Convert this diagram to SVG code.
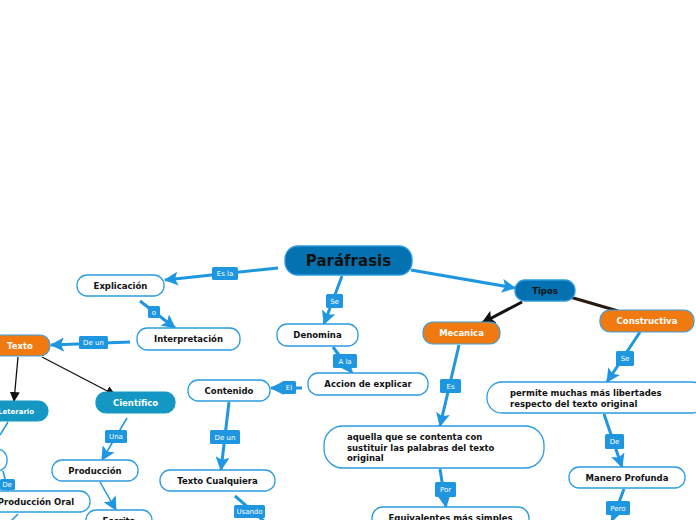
<svg xmlns="http://www.w3.org/2000/svg" width="696" height="520" viewBox="0 0 696 520">
<style>
.w{fill:#fff;stroke:#2a9be0;stroke-width:1.3}
.o{fill:#f07a10;stroke:#3aa0e0;stroke-width:1.2}
.t{fill:#1497c2;stroke:#1497c2;stroke-width:1.2}
.d{fill:#0471b0;stroke:#2a9be0;stroke-width:1.3}
text{font-family:"DejaVu Sans","Verdana",sans-serif;font-weight:bold;font-size:8.5px;fill:#111}
.wt{fill:#fff}
.c{stroke:#1e96e0;stroke-width:3;fill:none}
.k{stroke:#111;stroke-width:1.3;fill:none}
.lb{fill:#1e96e0}
.lt{font-weight:normal;font-size:7px;fill:#fff;text-anchor:middle}
.m{text-anchor:middle}
</style>
<defs>
<marker id="ab" markerUnits="userSpaceOnUse" markerWidth="14" markerHeight="14" viewBox="0 0 14 14" refX="13" refY="7" orient="auto"><path d="M0,0 L14,7 L0,14 L3,7 z" fill="#1e96e0"/></marker>
<marker id="ak" markerUnits="userSpaceOnUse" markerWidth="10" markerHeight="10" viewBox="0 0 10 10" refX="9" refY="5" orient="auto"><path d="M0,0 L10,5 L0,10 z" fill="#111"/></marker>
<marker id="akb" markerUnits="userSpaceOnUse" markerWidth="14" markerHeight="14" viewBox="0 0 14 14" refX="13" refY="7" orient="auto"><path d="M0,0 L14,7 L0,14 L3,7 z" fill="#111"/></marker>
</defs>
<g id="connectors">
<path class="c" d="M278,268 L165,280" marker-end="url(#ab)"/>
<path class="c" d="M140,301 L175,328" marker-end="url(#ab)"/>
<path class="c" d="M130,342 L51,345" marker-end="url(#ab)"/>
<path class="k" d="M18,357 L14,401" marker-end="url(#ak)"/>
<path class="k" d="M42,357 L115,395" marker-end="url(#ak)"/>
<path class="c" d="M342,276 L324,324" marker-end="url(#ab)"/>
<path class="c" d="M333,347 L352,373" marker-end="url(#ab)"/>
<path class="c" d="M302,388 L271,388" marker-end="url(#ab)"/>
<path class="c" d="M229,402 L221,470" marker-end="url(#ab)"/>
<path class="c" d="M235,496 L265,522"/>
<path class="c" d="M411,270 L515,288" marker-end="url(#ab)"/>
<path d="M522,302 L482,323" stroke="#111" stroke-width="3" fill="none" marker-end="url(#akb)"/>
<path d="M570,297 L618,311" stroke="#2b1a12" stroke-width="3" fill="none"/>
<path class="c" d="M459,345 L440,426" marker-end="url(#ab)"/>
<path class="c" d="M640,332 L607,382" marker-end="url(#ab)"/>
<path class="c" d="M604,414 L622,467" marker-end="url(#ab)"/>
<path class="c" d="M624,489 L612,521" marker-end="url(#ab)"/>
<path class="c" d="M440,469 L446,507" marker-end="url(#ab)"/>
<path class="k" d="M127,418 L102,460" stroke="#1e96e0" style="stroke:#1e96e0;stroke-width:1.5" marker-end="url(#ab)"/>
<path d="M100,482 L116,510" stroke="#1e96e0" stroke-width="1.5" fill="none" marker-end="url(#ab)"/>
<path d="M8,422 L0,435" stroke="#1e96e0" stroke-width="1.5" fill="none"/>
<path d="M3,471 L8,491" stroke="#1e96e0" stroke-width="1.5" fill="none"/>
<path d="M18,514 L10,522" stroke="#1e96e0" stroke-width="1.5" fill="none"/>
<rect class="lb" x="212" y="267" width="26" height="13" rx="1.5"/><text class="lt" x="225" y="276">Es la</text>
<rect class="lb" x="148" y="306" width="12" height="12" rx="1.5"/><text class="lt" x="154" y="315">o</text>
<rect class="lb" x="79" y="336" width="29" height="13" rx="1.5"/><text class="lt" x="93.5" y="345">De un</text>
<rect class="lb" x="326" y="294" width="17" height="14" rx="1.5"/><text class="lt" x="334.5" y="304">Se</text>
<rect class="lb" x="333" y="354" width="24" height="14" rx="1.5"/><text class="lt" x="345" y="364">A la</text>
<rect class="lb" x="282" y="381" width="14" height="13" rx="1.5"/><text class="lt" x="289" y="390">El</text>
<rect class="lb" x="210" y="430" width="30" height="14" rx="1.5"/><text class="lt" x="225" y="440">De un</text>
<rect class="lb" x="234" y="505" width="31" height="13" rx="1.5"/><text class="lt" x="249.5" y="514">Usando</text>
<rect class="lb" x="440" y="379" width="21" height="14" rx="1.5"/><text class="lt" x="450.5" y="389">Es</text>
<rect class="lb" x="616" y="351" width="18" height="15" rx="1.5"/><text class="lt" x="625" y="361">Se</text>
<rect class="lb" x="605" y="434" width="19" height="15" rx="1.5"/><text class="lt" x="614.5" y="444">De</text>
<rect class="lb" x="606" y="501" width="24" height="14" rx="1.5"/><text class="lt" x="618" y="511">Pero</text>
<rect class="lb" x="435" y="482" width="21" height="15" rx="1.5"/><text class="lt" x="445.5" y="492">Por</text>
<rect class="lb" x="105" y="430" width="22" height="13" rx="1.5"/><text class="lt" x="116" y="439">Una</text>
<rect class="lb" x="0" y="479" width="15" height="11" rx="1.5"/><text class="lt" x="7" y="487">De</text>
</g>
<g id="n-parafrasis"><rect class="d" x="285" y="246" width="127" height="29" rx="13"/><text class="m" x="348.5" y="266" style="font-size:15px">Paráfrasis</text></g>
<g id="n-explicacion"><rect class="w" x="77" y="275" width="87" height="21" rx="10"/><text class="m" x="120.5" y="289">Explicación</text></g>
<g id="n-interpretacion"><rect class="w" x="137" y="328" width="103" height="22" rx="10"/><text class="m" x="188.5" y="342">Interpretación</text></g>
<g id="n-texto"><rect class="o" x="-8" y="335" width="58" height="21" rx="10"/><text class="m wt" x="20" y="349">Texto</text></g>
<g id="n-leterario"><rect class="t" x="-12" y="401" width="60" height="20" rx="10"/><text class="m wt" x="16" y="414" style="font-size:7px">Leterario</text></g>
<g id="n-cientifico"><rect class="t" x="96" y="392" width="79" height="21" rx="10"/><text class="m wt" x="135.5" y="406">Científico</text></g>
<g id="n-partial"><rect class="w" x="-14" y="449" width="21" height="22" rx="10"/></g>
<g id="n-produccion"><rect class="w" x="52" y="460" width="86" height="21" rx="10"/><text class="m" x="95" y="474">Producción</text></g>
<g id="n-produccion-oral"><rect class="w" x="-12" y="491" width="102" height="21" rx="10"/><text class="m" x="36" y="505">Producción Oral</text></g>
<g id="n-escrita"><rect class="w" x="86" y="510" width="66" height="22" rx="10"/><text class="m" x="119" y="524">Escrita</text></g>
<g id="n-denomina"><rect class="w" x="277" y="324" width="81" height="22" rx="10"/><text class="m" x="317.5" y="338">Denomina</text></g>
<g id="n-accion"><rect class="w" x="308" y="373" width="120" height="22" rx="10"/><text class="m" x="368" y="387">Accion de explicar</text></g>
<g id="n-contenido"><rect class="w" x="188" y="380" width="82" height="21" rx="10"/><text class="m" x="229" y="394">Contenido</text></g>
<g id="n-texto-cualquiera"><rect class="w" x="160" y="470" width="115" height="21" rx="10"/><text class="m" x="217.5" y="484">Texto Cualquiera</text></g>
<g id="n-tipos"><rect class="d" x="515" y="280" width="60" height="21" rx="10"/><text class="m" x="545" y="294">Tipos</text></g>
<g id="n-mecanica"><rect class="o" x="423" y="322" width="77" height="22" rx="10"/><text class="m wt" x="461.5" y="336">Mecanica</text></g>
<g id="n-constructiva"><rect class="o" x="600" y="310" width="94" height="22" rx="10"/><text class="m wt" x="647" y="324">Constructiva</text></g>
<g id="n-permite"><rect class="w" x="487" y="382" width="220" height="31" rx="15"/><text x="510" y="396">permite muchas más libertades</text><text x="510" y="407">respecto del texto original</text></g>
<g id="n-aquella"><rect class="w" x="324" y="426" width="220" height="42" rx="19"/><text x="347" y="440">aquella que se contenta con</text><text x="347" y="450.5">sustituir las palabras del texto</text><text x="347" y="461">original</text></g>
<g id="n-equivalentes"><rect class="w" x="372" y="507" width="157" height="24" rx="11"/><text class="m" x="450.5" y="521">Equivalentes más simples</text></g>
<g id="n-manero"><rect class="w" x="569" y="467" width="116" height="21" rx="10"/><text class="m" x="627" y="481">Manero Profunda</text></g>
</svg>
